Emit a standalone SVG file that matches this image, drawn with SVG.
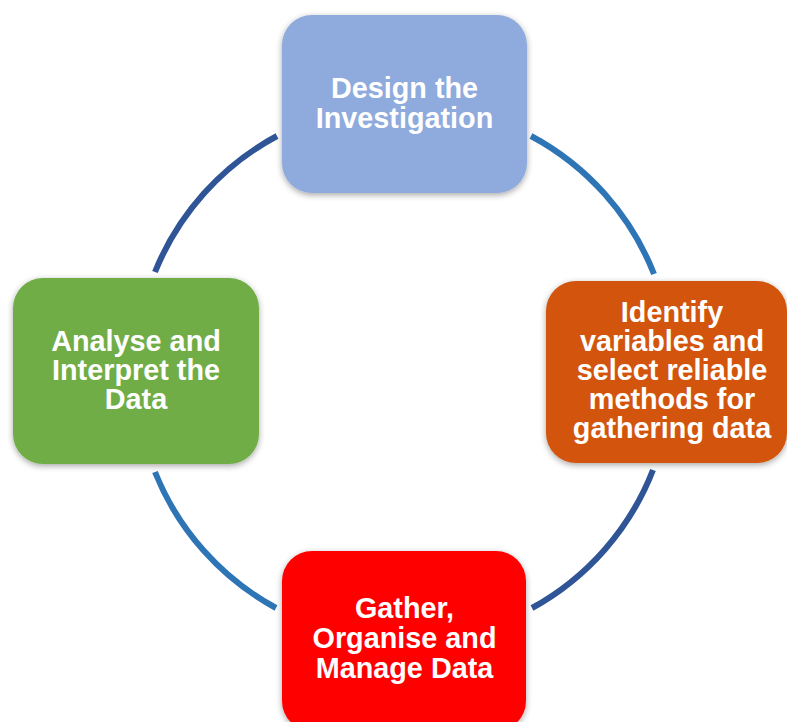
<svg xmlns="http://www.w3.org/2000/svg" width="787" height="722" viewBox="0 0 787 722">
  <defs>
    <filter id="soft" x="-10%" y="-10%" width="120%" height="125%">
      <feDropShadow dx="0" dy="2" stdDeviation="3" flood-color="#000" flood-opacity="0.35"/>
    </filter>
    <style>
      .arc { fill: none; stroke-width: 6; stroke-linecap: butt; }
      .dark { stroke: #2F5597; }
      .light { stroke: #2E75B6; }
      .box { filter: url(#soft); }
      .label { font-family: "Liberation Sans", Arial, sans-serif; font-weight: bold; font-size: 28.8px; fill: #FFFFFF; text-anchor: middle; }
    </style>
  </defs>
  <rect width="787" height="722" fill="#FFFFFF"/>

  <!-- cycle ring, drawn as four arcs between the boxes -->
  <g id="connectors">
    <path class="arc dark" d="M 155 272 A 268 268 0 0 1 277 136"/>
    <path class="arc light" d="M 531 136 A 268 268 0 0 1 654 274"/>
    <path class="arc dark" d="M 653 470 A 268 268 0 0 1 532 608"/>
    <path class="arc light" d="M 276 608 A 268 268 0 0 1 155 472"/>
  </g>

  <g id="design">
    <rect class="box" x="282" y="15" width="245" height="178" rx="30" fill="#8FAADC"/>
    <text class="label"><tspan x="404.5" y="98">Design the</tspan><tspan x="404.5" y="128">Investigation</tspan></text>
  </g>

  <g id="identify">
    <rect class="box" x="546" y="281" width="241" height="182" rx="30" fill="#D35410"/>
    <text class="label"><tspan x="672" y="322">Identify</tspan><tspan x="672" y="351">variables and</tspan><tspan x="672" y="380">select reliable</tspan><tspan x="672" y="409">methods for</tspan><tspan x="672" y="438">gathering data</tspan></text>
  </g>

  <g id="gather">
    <rect class="box" x="282" y="551" width="244" height="180" rx="30" fill="#FF0000"/>
    <text class="label"><tspan x="404.5" y="618">Gather,</tspan><tspan x="404.5" y="648">Organise and</tspan><tspan x="404.5" y="678">Manage Data</tspan></text>
  </g>

  <g id="analyse">
    <rect class="box" x="13" y="278" width="246" height="186" rx="30" fill="#70AD47"/>
    <text class="label"><tspan x="136" y="351">Analyse and</tspan><tspan x="136" y="380">Interpret the</tspan><tspan x="136" y="409">Data</tspan></text>
  </g>
</svg>
